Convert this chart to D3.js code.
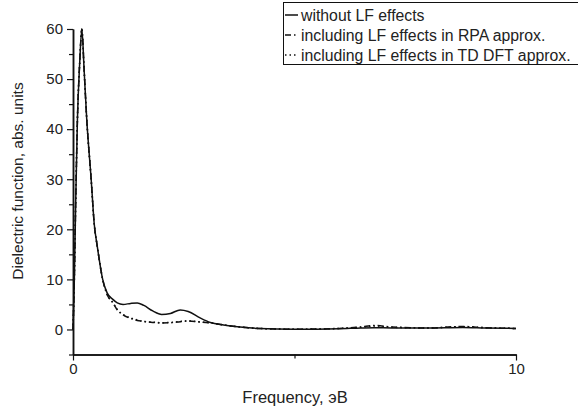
<!DOCTYPE html>
<html>
<head>
<meta charset="utf-8">
<script src="https://cdn.jsdelivr.net/npm/d3@7"></script>
<style>
	body { margin: 0; background: #fff; }
	svg { display: block; font-family: "Liberation Sans", Arial, sans-serif; }
</style>
</head>
<body>
<svg id="chart" width="578" height="410"></svg>
<script>
// frequency grid, eV
var freq = [0, 0.03, 0.06, 0.1, 0.15, 0.2, 0.25, 0.31, 0.41, 0.48, 0.55, 0.67, 0.77, 0.9, 1.0, 1.13, 1.3, 1.45, 1.6, 1.8, 2.0, 2.2, 2.42, 2.6, 2.87, 3.1, 3.4, 3.77, 4.2, 5, 6, 6.5, 6.8, 7.2, 8, 8.8, 9.3, 10];
// without LF effects
var noLF = [0, 10, 25, 42, 53, 60, 52, 42, 30, 21, 16.5, 10, 7.3, 6.0, 5.3, 5.0, 5.2, 5.3, 4.8, 3.7, 3.0, 3.2, 3.9, 3.6, 2.3, 1.4, 0.9, 0.5, 0.2, 0.05, 0.15, 0.3, 0.35, 0.3, 0.3, 0.4, 0.3, 0.2];
// including LF effects, RPA
var lfRPA = [0, 10, 25, 42, 53, 60, 52, 42, 30, 21, 16.5, 10, 7.0, 5.3, 3.9, 2.9, 2.2, 1.8, 1.6, 1.4, 1.3, 1.35, 1.55, 1.7, 1.5, 1.3, 0.9, 0.5, 0.2, 0.05, 0.2, 0.5, 0.8, 0.5, 0.3, 0.6, 0.35, 0.2];
// including LF effects, TD DFT
var lfTDDFT = [0, 10, 25, 42, 53, 60, 52, 42, 30, 21, 16.5, 10, 7.0, 5.4, 4.0, 3.0, 2.3, 1.9, 1.6, 1.45, 1.35, 1.4, 1.6, 1.7, 1.5, 1.3, 0.9, 0.5, 0.2, 0.05, 0.2, 0.45, 0.7, 0.45, 0.3, 0.55, 0.35, 0.2];

var yMajor = [0, 10, 20, 30, 40, 50, 60];
var yMinor = [-5, 5, 15, 25, 35, 45, 55];
var xMajor = [0, 10];
var xMinor = [5];

var legendLabels = ["without LF effects", "including LF effects in RPA approx.", "including LF effects in TD DFT approx."];
var dashes = [null, "6,3,1.5,3", "1.5,3"];

var svg = d3.select("#chart");

var x = d3.scaleLinear().domain([0, 10]).range([73, 516]);
var y = d3.scaleLinear().domain([-5, 60]).range([354.5, 29]);

// y axis
var yAxis = svg.append("g").attr("transform", "translate(73,0)");
yAxis.call(d3.axisLeft(y).tickValues(yMajor).tickSize(6).tickPadding(4).tickSizeOuter(0));
yAxis.append("g").call(d3.axisLeft(y).tickValues(yMinor).tickSize(4).tickFormat("").tickSizeOuter(0));

// x axis
var xAxis = svg.append("g").attr("transform", "translate(0," + y(-5) + ")");
xAxis.call(d3.axisBottom(x).tickValues(xMajor).tickSize(6).tickPadding(3).tickFormat(d3.format("d")).tickSizeOuter(0));
xAxis.append("g").call(d3.axisBottom(x).tickValues(xMinor).tickSize(4).tickFormat("").tickSizeOuter(0));

svg.selectAll(".domain").attr("stroke", "#111").attr("stroke-width", 1.5);
svg.selectAll(".tick line").attr("stroke", "#111").attr("stroke-width", 1.2);
svg.selectAll(".tick text").attr("font-size", 15).attr("fill", "#222")
	.attr("font-family", "'Liberation Sans', Arial, sans-serif");

// axis titles
svg.append("text")
	.attr("transform", "translate(23,181) rotate(-90)")
	.attr("text-anchor", "middle")
	.attr("font-size", 15.5)
	.attr("fill", "#222")
	.text("Dielectric function, abs. units");

svg.append("text")
	.attr("x", 295)
	.attr("y", 403)
	.attr("text-anchor", "middle")
	.attr("font-size", 16.5)
	.attr("fill", "#222")
	.text("Frequency, эВ");

// curves
var line = d3.line()
	.x(function(d, i) { return x(freq[i]); })
	.y(function(d) { return y(d); })
	.curve(d3.curveMonotoneX);

[noLF, lfRPA, lfTDDFT].forEach(function(series, k) {
	svg.append("path")
		.datum(series)
		.attr("d", line)
		.attr("fill", "none")
		.attr("stroke", "#111")
		.attr("stroke-width", 1.5)
		.attr("stroke-dasharray", dashes[k]);
});

// legend
var legend = svg.append("g");
legend.append("rect")
	.attr("x", 283.5)
	.attr("y", 2.5)
	.attr("width", 320)
	.attr("height", 62)
	.attr("fill", "#fff")
	.attr("stroke", "#111")
	.attr("stroke-width", 1);

legendLabels.forEach(function(label, k) {
	var cy = 15 + k * 20;
	legend.append("line")
		.attr("x1", 285)
		.attr("x2", 298)
		.attr("y1", cy)
		.attr("y2", cy)
		.attr("stroke", "#111")
		.attr("stroke-width", 1.5)
		.attr("stroke-dasharray", dashes[k]);
	legend.append("text")
		.attr("x", 301)
		.attr("y", cy + 5.5)
		.attr("font-size", 15.8)
		.attr("fill", "#222")
		.text(label);
});
</script>
</body>
</html>
